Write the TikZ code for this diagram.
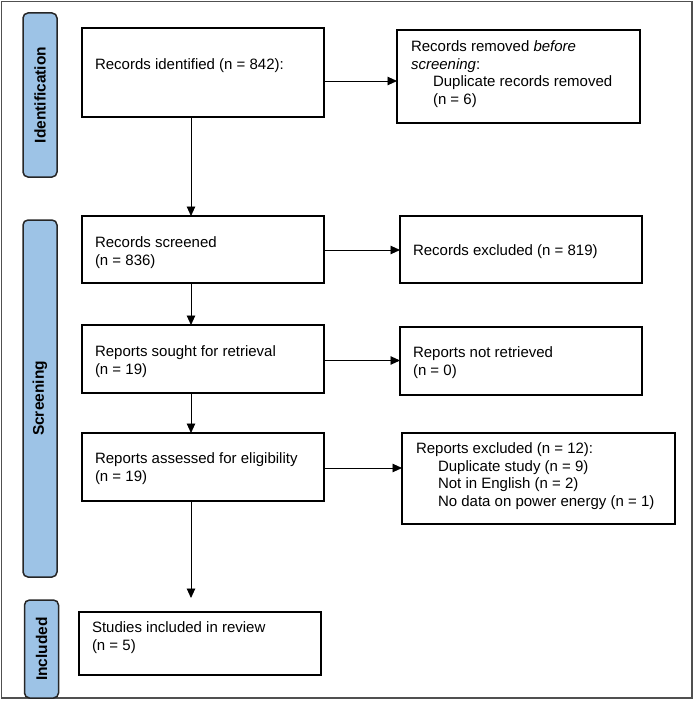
\documentclass[tikz,border=0pt]{standalone}
\usepackage{fontspec}
\setmainfont{Liberation Sans}
\usetikzlibrary{arrows.meta}
\definecolor{sideblue}{HTML}{9DC3E6}
\definecolor{framegray}{HTML}{505050}
% width, height, top pad, left pad, text
\newcommand\bxt[5]{\parbox[c][#2][t]{#1}{\vspace*{#3}\raggedright\leftskip=#4\relax\parindent=0pt\fontsize{15}{17.5}\selectfont #5\par}}
\newcommand\ind{\hspace*{22pt}}
\begin{document}
\begin{tikzpicture}[x=1pt,y=-1pt,
  box/.style={draw=black, line width=1.6pt, inner sep=0pt, outer sep=0pt, anchor=north west},
  side/.style={draw=black!85, line width=1.5pt, fill=sideblue, rounded corners=5pt, rotate=90,
    minimum height=34pt, inner sep=0pt, font=\fontsize{15.5}{18}\selectfont\bfseries},
  arr/.style={line width=0.9pt, -{Triangle[length=9.5pt,width=8.5pt]}}]
\useasboundingbox (0,0) rectangle (694,701);
\draw[framegray, line width=1.5pt] (1.5,1.5) rectangle (692,698);

\node[side, minimum width=164pt] (sid) at (40,95) {Identification};
\node[side, minimum width=357pt] (ssc) at (40,398.5) {Screening};
\node[side, minimum width=98pt] (sin) at (41.5,649) {Included};

\node[box] (ident) at (82,28) {\bxt{242pt}{89pt}{31pt}{13pt}{Records identified (n = 842):}};
\node[box] (removed) at (397,30) {\bxt{243pt}{93pt}{11pt}{14pt}{Records removed \textit{before screening}:\\ \ind Duplicate records removed\\ \ind (n = 6)}};
\node[box] (screened) at (82,216) {\bxt{242pt}{67pt}{21pt}{13pt}{Records screened\\(n = 836)}};
\node[box] (excl) at (400,216) {\bxt{242pt}{67pt}{29pt}{13pt}{Records excluded (n = 819)}};
\node[box] (sought) at (82,325) {\bxt{242pt}{68pt}{21pt}{13pt}{Reports sought for retrieval\\(n = 19)}};
\node[box] (notret) at (400,327) {\bxt{242pt}{68pt}{20pt}{13pt}{Reports not retrieved\\(n = 0)}};
\node[box] (assessed) at (82,433) {\bxt{242pt}{68pt}{20pt}{13pt}{Reports assessed for eligibility\\(n = 19)}};
\node[box] (repexcl) at (402,433) {\bxt{273pt}{91pt}{10pt}{14pt}{Reports excluded (n = 12):\\ \ind Duplicate study (n = 9)\\ \ind Not in English (n = 2)\\ \ind No data on power energy (n = 1)}};
\node[box] (incl) at (79,612) {\bxt{242pt}{63pt}{10pt}{13pt}{Studies included in review\\(n = 5)}};

\draw[arr] ([yshift=-8.5pt]ident.east) coordinate (t1) -- (t1 -| removed.west);
\draw[arr] ([yshift=-0.5pt]screened.east) coordinate (t2) -- (t2 -| excl.west);
\draw[arr] ([yshift=-1.5pt]sought.east) coordinate (t3) -- (t3 -| notret.west);
\draw[arr] ([yshift=-1pt]assessed.east) coordinate (t4) -- (t4 -| repexcl.west);

\draw[arr] ([xshift=-12pt]ident.south) coordinate (v1) -- (v1 |- screened.north);
\draw[arr] ([xshift=-12pt]screened.south) coordinate (v2) -- (v2 |- sought.north);
\draw[arr] ([xshift=-12pt]sought.south) coordinate (v3) -- (v3 |- assessed.north);
\draw[arr, shorten >=14pt] ([xshift=-12pt]assessed.south) coordinate (v4) -- (v4 |- incl.north);
\end{tikzpicture}
\end{document}
